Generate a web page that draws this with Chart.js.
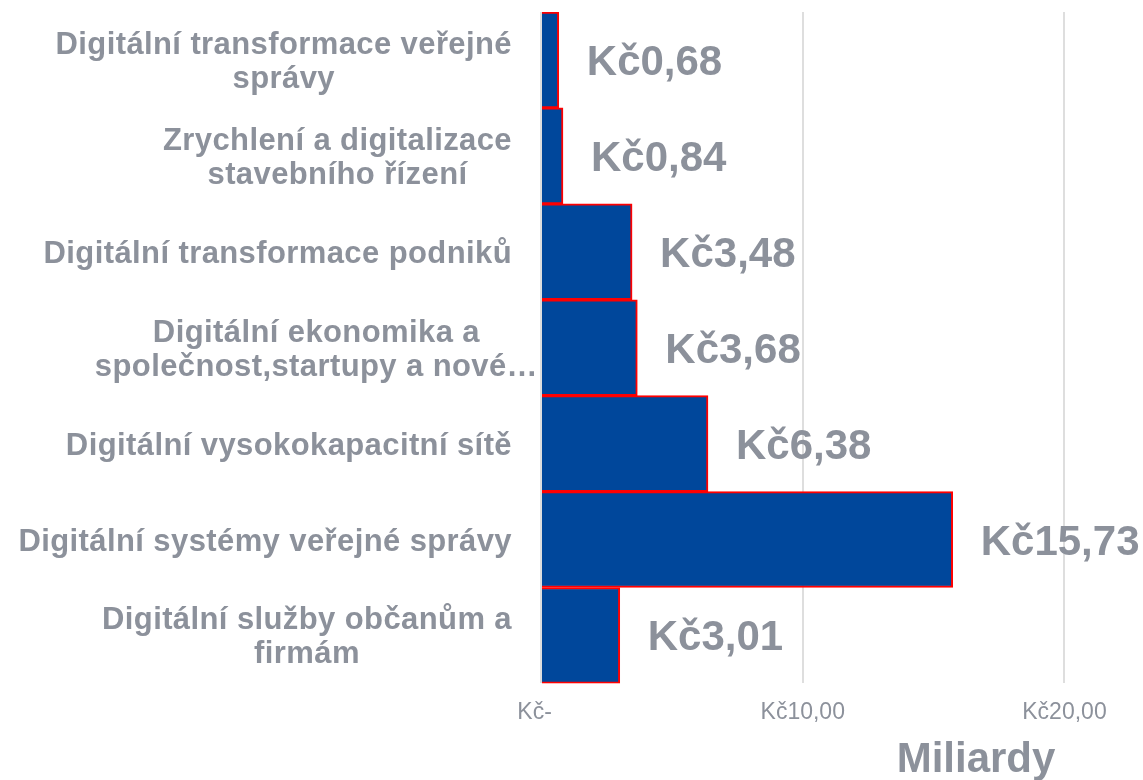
<!DOCTYPE html>
<html>
<head>
<meta charset="utf-8">
<script src="https://cdn.jsdelivr.net/npm/chart.js@4"></script>
<style>
    html, body { margin: 0; padding: 0; background: #fff; }
    #obal { width: 1143px; height: 780px; }
</style>
</head>
<body>
<div id="obal"><canvas id="grafMiliardy"></canvas></div>
<script>
    /*      DATA     */
    var kategorie = [
        ['Digitální transformace veřejné', 'správy'],
        ['Zrychlení a digitalizace', 'stavebního řízení'],
        ['Digitální transformace podniků'],
        ['Digitální ekonomika a', 'společnost,startupy a nové…'],
        ['Digitální vysokokapacitní sítě'],
        ['Digitální systémy veřejné správy'],
        ['Digitální služby občanům a', 'firmám']
    ];
    var castky = [0.68, 0.84, 3.48, 3.68, 6.38, 15.73, 3.01];
    var osaX = [0, 10, 20];
    var nazevOsy = 'Miliardy';

    var SEDA = '#8c919b';
    var PISMO = '"Liberation Sans", Arial, sans-serif';

    function formatKc(v) {
        if (v === 0) {
            return 'Kč-  ';
        }
        return 'Kč' + v.toFixed(2).replace('.', ',');
    }

    // popisky kategorii, hodnoty u sloupcu a nazev osy
    var popisky = {
        id: 'popisky',
        afterDatasetsDraw: function(chart) {
            var ctx = chart.ctx;
            var osaY = chart.scales.y;
            var oblast = chart.chartArea;
            var meta = chart.getDatasetMeta(0);

            ctx.save();
            ctx.fillStyle = SEDA;
            ctx.textBaseline = 'alphabetic';

            ctx.font = 'bold 31px ' + PISMO;
            ctx.letterSpacing = '0.4px';
            ctx.textAlign = 'center';
            kategorie.forEach(function(radky, i) {
                var stred = osaY.getPixelForValue(i);
                var sirka = 0;
                radky.forEach(function(r) {
                    sirka = Math.max(sirka, ctx.measureText(r).width);
                });
                var pravy = oblast.left - 29;
                if (radky[radky.length - 1].endsWith('…')) {
                    pravy += 26;
                }
                var cx = pravy - sirka / 2;
                radky.forEach(function(r, j) {
                    var by = stred + (j - (radky.length - 1) / 2) * 34 + 11;
                    ctx.fillText(r, cx, by);
                });
            });

            ctx.letterSpacing = '0px';
            ctx.font = 'bold 42px ' + PISMO;
            ctx.textAlign = 'left';
            meta.data.forEach(function(bar, i) {
                ctx.fillText(formatKc(castky[i]), bar.x + 28, bar.y + 15);
            });

            ctx.textAlign = 'center';
            ctx.fillText(nazevOsy, 976, 772);
            ctx.restore();
        }
    };

    var ctx = document.getElementById('grafMiliardy').getContext('2d');
    var graf = new Chart(ctx, {
        type: 'bar',
        data: {
            labels: kategorie,
            datasets: [{
                label: 'Miliardy',
                data: castky,
                backgroundColor: '#00479b',
                borderColor: '#ff0000',
                borderWidth: 2,
                barPercentage: 1,
                categoryPercentage: 1
            }]
        },
        options: {
            indexAxis: 'y',
            responsive: true,
            maintainAspectRatio: false,
            animation: false,
            layout: {
                padding: { left: 0, right: 0, top: 12, bottom: 39 }
            },
            plugins: {
                legend: { display: false },
                tooltip: { enabled: false }
            },
            scales: {
                x: {
                    min: 0,
                    max: 23,
                    afterBuildTicks: function(scale) {
                        scale.ticks = osaX.map(function(v) { return { value: v }; });
                    },
                    grid: {
                        color: '#dedede',
                        lineWidth: 2,
                        drawTicks: false
                    },
                    border: { display: false },
                    ticks: {
                        color: SEDA,
                        padding: 15,
                        maxRotation: 0,
                        font: { family: PISMO, size: 23 },
                        callback: function(v) { return formatKc(v); }
                    }
                },
                y: {
                    afterFit: function(scale) {
                        scale.width = 541;
                    },
                    grid: { display: false },
                    border: { display: false },
                    ticks: { display: false }
                }
            }
        },
        plugins: [popisky]
    });
</script>
</body>
</html>
